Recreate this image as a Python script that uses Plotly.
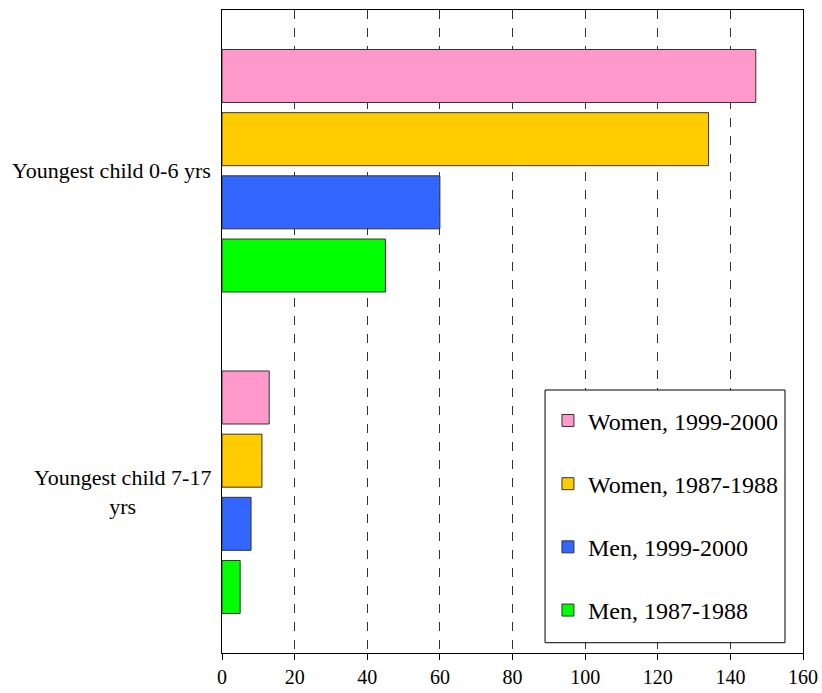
import plotly.graph_objects as go

categories = ["Youngest child 0-6 yrs", "Youngest child 7-17 yrs"]
category_labels = ["Youngest child 0-6 yrs", "Youngest child 7-17<br>yrs"]
series_names = ["Women, 1999-2000", "Women, 1987-1988", "Men, 1999-2000", "Men, 1987-1988"]
women_1999 = [147, 13]
women_1987 = [134, 11]
men_1999 = [60, 8]
men_1987 = [45, 5]
x_ticks = [0, 20, 40, 60, 80, 100, 120, 140, 160]

series_values = [women_1999, women_1987, men_1999, men_1987]
colors = ["#FF99CC", "#FFCC00", "#3366FF", "#00FF00"]

FONT = "Liberation Serif, Times New Roman, serif"

fig = go.Figure()
for i, (name, vals) in enumerate(zip(series_names, series_values)):
    fig.add_trace(go.Bar(
        y=categories, x=vals, name=name, orientation="h",
        marker=dict(color=colors[i], line=dict(color="#333333", width=1)),
        legendgroup=f"g{i}",
    ))

for cat, lab in zip(categories, category_labels):
    fig.add_annotation(
        x=0, xref="paper", y=cat, yref="y", text=lab, showarrow=False,
        xanchor="right", yanchor="middle", align="center", xshift=-9,
        font=dict(family=FONT, size=22, color="black"),
    )

fig.add_shape(type="rect", xref="paper", yref="paper",
              x0=0.556, x1=0.969, y0=0.016, y1=0.409,
              line=dict(color="black", width=1), fillcolor="white", layer="above")

fig.update_layout(
    width=822, height=693,
    margin=dict(l=222, r=19, t=10, b=40, autoexpand=False),
    paper_bgcolor="white", plot_bgcolor="rgba(0,0,0,0)",
    barmode="group", bargap=0.214, bargroupgap=0.161,
    showlegend=True,
    legend=dict(
        x=0.561, y=0.396, xanchor="left", yanchor="top",
        font=dict(family=FONT, size=24, color="black"),
        bgcolor="rgba(0,0,0,0)", borderwidth=0,
        traceorder="grouped", tracegroupgap=29,
        itemwidth=30,
    ),
    font=dict(family=FONT, color="black"),
)
fig.update_xaxes(
    range=[0, 160], tickvals=x_ticks, ticktext=[str(t) for t in x_ticks],
    showgrid=True, gridcolor="#333333", griddash="dash", gridwidth=1,
    showline=True, linecolor="black", linewidth=1, mirror=True,
    ticks="outside", ticklen=6, tickcolor="black", automargin=False,
    ticklabeloverflow="allow",
    tickfont=dict(family=FONT, size=20, color="black"), zeroline=False,
)
fig.update_yaxes(
    autorange="reversed", showticklabels=False, showgrid=False, automargin=False,
    showline=True, linecolor="black", linewidth=1, mirror=True, ticks="",
)

fig.write_html(
    "out.html",
    config={"displayModeBar": False},
    post_script="document.body.style.margin='0';document.body.style.overflow='hidden';",
)
